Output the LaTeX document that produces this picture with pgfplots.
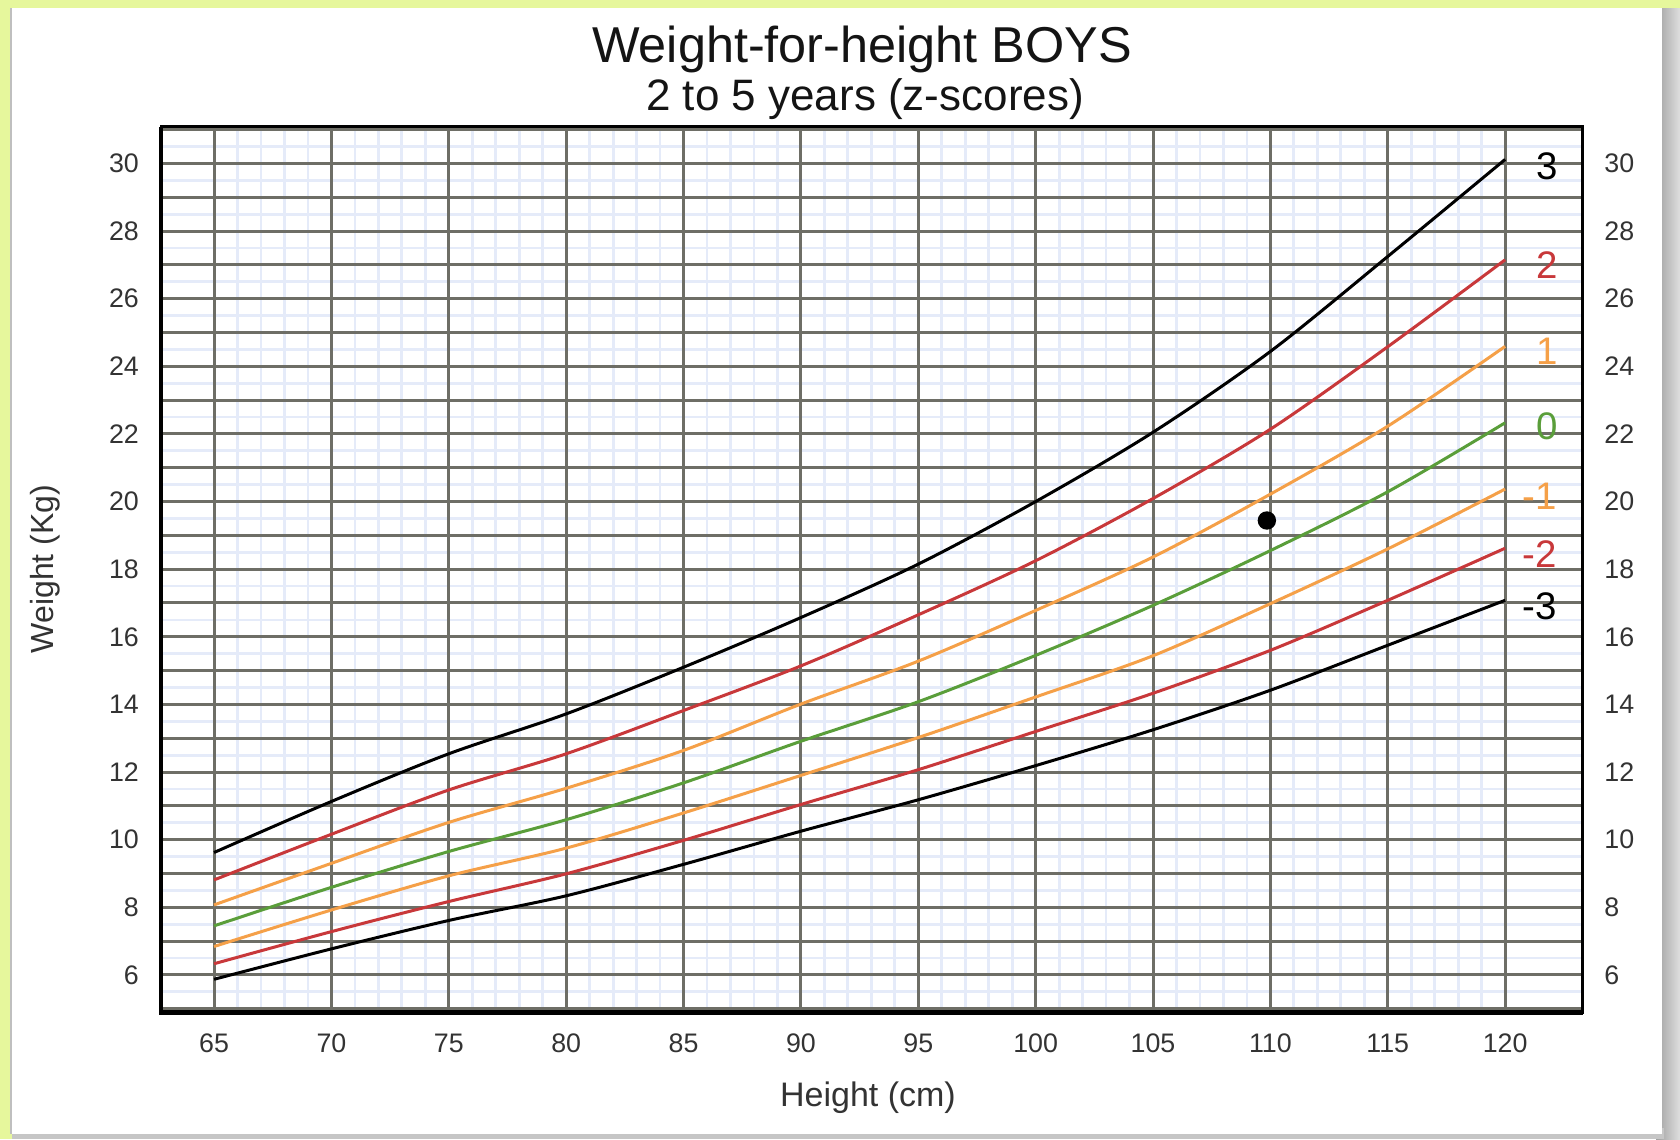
\documentclass[border=0pt]{standalone}
\usepackage{fontspec}
\setmainfont{Liberation Sans}
\usepackage{pgfplots}
\usepackage{pgfplotstable}
\pgfplotsset{compat=1.18}
\definecolor{bglime}{HTML}{E6F79C}
\definecolor{darkgrid}{HTML}{6E6E66}
\definecolor{lightgrid}{HTML}{E5EBF9}
\definecolor{zred}{HTML}{C8383A}
\definecolor{zorange}{HTML}{F5A048}
\definecolor{zgreen}{HTML}{5A9E3A}
\definecolor{ticktext}{HTML}{333333}

\pgfplotstableread{
h m3 m2 m1 z0 p1 p2 p3
65 5.87 6.33 6.84 7.45 8.07 8.81 9.62
70 6.77 7.28 7.92 8.59 9.30 10.16 11.13
75 7.61 8.17 8.93 9.65 10.51 11.47 12.54
80 8.34 8.99 9.75 10.59 11.52 12.54 13.72
85 9.27 9.98 10.79 11.68 12.64 13.82 15.10
90 10.25 11.04 11.90 12.91 14.01 15.14 16.57
95 11.18 12.07 13.02 14.08 15.28 16.65 18.15
100 12.19 13.20 14.22 15.45 16.78 18.25 20.00
105 13.25 14.33 15.44 16.93 18.36 20.09 22.05
110 14.42 15.60 16.98 18.55 20.22 22.14 24.44
115 15.75 17.08 18.60 20.29 22.23 24.58 27.25
120 17.08 18.62 20.37 22.33 24.59 27.15 30.12
}\whodata

\pgfplotsset{
  chartgeom/.style={
    at={(40.25pt,-253.1pt)}, anchor=south west,
    scale only axis, width=355.4pt, height=221.45pt,
    xmin=62.74, xmax=123.3, ymin=4.89, ymax=31.09,
    major tick length=0pt, minor tick length=0pt,
    /pgf/number format/assume math mode=true,
    tick label style={font=\fontsize{6.7}{7.5}\selectfont, text=ticktext},
  },
  zcurve/.style={line width=0.75pt, smooth},
}

\begin{document}
\begin{tikzpicture}
\path[use as bounding box] (0pt,0pt) rectangle (420pt,-284.75pt);
\fill[bglime] (0pt,0pt) rectangle (420pt,-284.75pt);
\shade[left color=gray!75, right color=gray!25] (414pt,-2pt) rectangle (420pt,-284.75pt);
\fill[gray!45] (3pt,-282pt) rectangle (416pt,-284.75pt);
\fill[white] (2.5pt,-2pt) rectangle (415.5pt,-283.6pt);
\draw[gray!50, line width=0.6pt] (2.8pt,-2pt) -- (2.8pt,-283.6pt);

% light background grid + right-hand labels
\begin{axis}[chartgeom,
  axis line style={draw=none},
  xtick={66,...,119}, xticklabels={},
  ytick={6,8,...,30}, minor ytick={5,5.5,...,31},
  yticklabel pos=right,
  yticklabel style={xshift=1.9pt},
  grid=both,
  major grid style={lightgrid, line width=0.7pt},
  minor grid style={lightgrid, line width=0.7pt},
]
\end{axis}

% main axis
\begin{axis}[chartgeom,
  axis line style={black, line width=0.6pt},
  xtick={65,70,...,120},
  ytick={6,8,...,30}, minor ytick={5,7,...,31},
  grid=both,
  major grid style={darkgrid, line width=0.75pt},
  minor grid style={darkgrid, line width=0.75pt},
  xticklabel style={yshift=-1.9pt},
  yticklabel style={xshift=-2pt},
  clip=false,
]
\addplot[black, zcurve] table[x=h, y=p3] {\whodata};
\addplot[zred, zcurve] table[x=h, y=p2] {\whodata};
\addplot[zorange, zcurve] table[x=h, y=p1] {\whodata};
\addplot[zgreen, zcurve] table[x=h, y=z0] {\whodata};
\addplot[zorange, zcurve] table[x=h, y=m1] {\whodata};
\addplot[zred, zcurve] table[x=h, y=m2] {\whodata};
\addplot[black, zcurve] table[x=h, y=m3] {\whodata};
\addplot[only marks, mark=*, mark size=2.1pt, black] coordinates {(109.85,19.44)};

\draw[black, line width=1.2pt] (rel axis cs:0,1) -- (rel axis cs:0,0) -- (rel axis cs:1,0);

\node[anchor=west, inner sep=0pt, font=\fontsize{9.6}{10}\selectfont, text=black] at (axis cs:121.3,29.93) {3};
\node[anchor=west, inner sep=0pt, font=\fontsize{9.6}{10}\selectfont, text=zred] at (axis cs:121.3,27.0) {2};
\node[anchor=west, inner sep=0pt, font=\fontsize{9.6}{10}\selectfont, text=zorange] at (axis cs:121.3,24.45) {1};
\node[anchor=west, inner sep=0pt, font=\fontsize{9.6}{10}\selectfont, text=zgreen] at (axis cs:121.3,22.23) {0};
\node[anchor=west, inner sep=0pt, font=\fontsize{9.6}{10}\selectfont, text=zorange] at (axis cs:120.7,20.17) {-1};
\node[anchor=west, inner sep=0pt, font=\fontsize{9.6}{10}\selectfont, text=zred] at (axis cs:120.7,18.45) {-2};
\node[anchor=west, inner sep=0pt, font=\fontsize{9.6}{10}\selectfont, text=black] at (axis cs:120.7,16.9) {-3};
\end{axis}

\node[anchor=base, font=\fontsize{12.6}{14}\selectfont, text=black!92] at (215.5pt,-15.5pt) {Weight-for-height BOYS};
\node[anchor=base, font=\fontsize{11}{13}\selectfont, text=black!92] at (216.25pt,-27.6pt) {2 to 5 years (z-scores)};
\node[font=\fontsize{8.5}{10}\selectfont, text=ticktext] at (217pt,-274.5pt) {Height (cm)};
\node[rotate=90, font=\fontsize{8}{10}\selectfont, text=ticktext] at (11.25pt,-142.25pt) {Weight (Kg)};
\end{tikzpicture}
\end{document}
